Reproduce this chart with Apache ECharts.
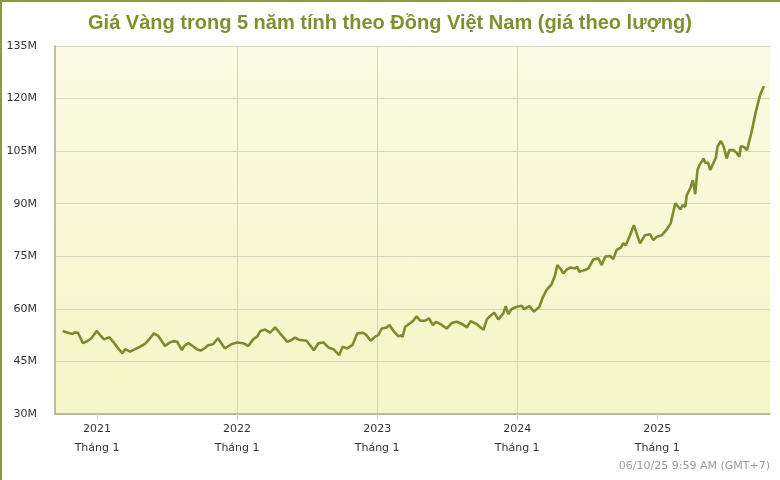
<!DOCTYPE html>
<html>
<head>
<meta charset="utf-8">
<script src="https://cdn.jsdelivr.net/npm/echarts@6/dist/echarts.min.js"></script>
<style>
html,body{margin:0;padding:0;background:#fff;}
#chart{width:780px;height:480px;}
</style>
</head>
<body>
<div id="chart"></div>
<script>
const titleText = "Giá Vàng trong 5 năm tính theo Đồng Việt Nam (giá theo lượng)";
const stampText = "06/10/25 9:59 AM (GMT+7)";
const yTicks = [30, 45, 60, 75, 90, 105, 120, 135];
const xTickYears = [2021, 2022, 2023, 2024, 2025];
const xTickSub = "Tháng 1";

const dates = [
"2020-10-03","2020-10-17","2020-10-29","2020-11-04","2020-11-12","2020-11-25","2020-12-08","2020-12-17","2020-12-31",
"2021-01-09","2021-01-19","2021-02-02","2021-02-12","2021-02-25","2021-03-08","2021-03-15","2021-03-28","2021-04-10","2021-04-23","2021-05-06","2021-05-19","2021-05-29","2021-06-10","2021-06-18","2021-06-27","2021-07-08","2021-07-19","2021-07-29","2021-08-10","2021-08-16","2021-08-27","2021-09-07","2021-09-18","2021-09-28","2021-10-09","2021-10-17","2021-10-30","2021-11-12","2021-11-30","2021-12-17",
"2022-01-01","2022-01-17","2022-01-30","2022-02-12","2022-02-23","2022-03-03","2022-03-15","2022-03-28","2022-04-10","2022-04-23","2022-05-12","2022-05-23","2022-06-01","2022-06-14","2022-07-01","2022-07-20","2022-08-01","2022-08-14","2022-08-27","2022-09-09","2022-09-24","2022-10-03","2022-10-15","2022-10-29","2022-11-10","2022-11-25","2022-12-04","2022-12-15","2022-12-26",
"2023-01-04","2023-01-13","2023-01-26","2023-02-02","2023-02-14","2023-02-25","2023-03-06","2023-03-08","2023-03-15","2023-03-28","2023-04-05","2023-04-14","2023-04-23","2023-05-06","2023-05-16","2023-05-26","2023-06-03","2023-06-14","2023-07-01","2023-07-15","2023-07-27","2023-08-10","2023-08-23","2023-09-02","2023-09-18","2023-10-05","2023-10-14","2023-10-22","2023-11-02","2023-11-13","2023-11-26","2023-12-02","2023-12-09","2023-12-17","2023-12-31",
"2024-01-13","2024-01-19","2024-02-02","2024-02-14","2024-02-28","2024-03-08","2024-03-18","2024-03-31","2024-04-09","2024-04-15","2024-04-24","2024-05-01","2024-05-10","2024-05-20","2024-05-31","2024-06-06","2024-06-11","2024-06-26","2024-07-05","2024-07-18","2024-07-31","2024-08-09","2024-08-18","2024-08-31","2024-09-08","2024-09-17","2024-09-28","2024-10-04","2024-10-11","2024-10-22","2024-11-01","2024-11-17","2024-11-30","2024-12-13","2024-12-22","2024-12-31",
"2025-01-13","2025-01-26","2025-02-05","2025-02-12","2025-02-17","2025-02-25","2025-03-03","2025-03-08","2025-03-15","2025-03-19","2025-03-28","2025-04-04","2025-04-10","2025-04-16","2025-04-21","2025-05-02","2025-05-06","2025-05-14","2025-05-19","2025-05-27","2025-06-03","2025-06-07","2025-06-16","2025-06-23","2025-07-01","2025-07-08","2025-07-19","2025-07-27","2025-08-03","2025-08-07","2025-08-15","2025-08-23","2025-09-04","2025-09-15","2025-09-26","2025-10-06"
];

// price in millions VND
const prices = [
53.7,53.2,52.8,53.3,53.2,50.2,50.9,51.6,53.7,
52.5,51.3,51.9,50.6,48.7,47.3,48.5,47.8,48.5,49.2,50.0,51.6,53.0,52.2,50.9,49.4,50.3,50.8,50.6,48.2,49.4,50.2,49.4,48.5,48.1,48.8,49.6,49.9,51.6,48.7,49.9,
50.4,50.2,49.4,51.3,52.2,53.7,54.1,53.2,54.7,53.0,50.6,51.1,51.8,51.1,50.9,48.2,50.2,50.4,49.0,48.5,46.8,49.2,48.7,49.7,53.0,53.2,52.5,50.9,52.0,
52.5,54.4,54.7,55.4,53.5,52.2,52.5,51.9,54.9,55.9,56.6,57.9,56.6,56.6,57.3,55.4,56.3,55.7,54.4,56.0,56.3,55.7,54.7,56.5,55.6,54.0,57.0,57.9,58.9,57.0,58.7,60.8,58.5,59.9,60.6,
60.9,59.9,60.8,59.2,60.6,63.3,65.4,67.0,69.6,72.5,71.3,70.1,71.3,71.8,71.5,72.0,70.6,71.1,71.5,74.1,74.4,72.5,74.9,75.1,74.2,76.8,77.5,78.7,78.2,81.0,83.9,78.7,81.0,81.3,79.6,80.6,
81.0,82.7,84.4,87.7,90.1,89.1,88.4,89.6,89.1,92.4,94.4,96.7,92.7,99.6,101.0,102.9,101.7,101.7,99.6,101.5,103.2,106.2,107.9,106.4,102.9,105.3,105.3,104.5,103.4,106.4,106.2,105.3,110.5,116.2,121.0,123.5
];

const xStart = "2020-09-13";
const xEnd = "2025-10-22";

function toYear(s) {
  const p = s.split('-').map(Number);
  const y = p[0];
  const start = Date.UTC(y, 0, 1), end = Date.UTC(y + 1, 0, 1);
  return y + (Date.UTC(y, p[1] - 1, p[2]) - start) / (end - start);
}

const seriesData = dates.map((d, i) => [toYear(d), prices[i]]);

const olive = '#7b8c2c';
const chart = echarts.init(document.getElementById('chart'), null, { renderer: 'canvas' });
chart.setOption({
  animation: false,
  backgroundColor: '#ffffff',
  title: {
    text: titleText,
    left: 'center',
    top: 8,
    textStyle: { fontFamily: 'Liberation Sans, Arial, sans-serif', fontSize: 20, fontWeight: 'bold', color: '#7f902f' }
  },
  grid: {
    left: 55, right: 10, top: 46, bottom: 66,
    show: true,
    borderWidth: 0,
    backgroundColor: {
      type: 'linear', x: 0, y: 0, x2: 0, y2: 1,
      colorStops: [{ offset: 0, color: '#fbfbe4' }, { offset: 1, color: '#f5f5c6' }]
    }
  },
  xAxis: {
    type: 'value',
    min: toYear(xStart),
    max: toYear(xEnd),
    minInterval: 1,
    maxInterval: 1,
    axisLine: { show: true, lineStyle: { color: '#a9a98c', width: 1.5 } },
    axisTick: { show: true, length: 6, lineStyle: { color: '#c5d3e0' }, customValues: xTickYears },
    axisLabel: {
      customValues: xTickYears,
      formatter: v => Math.round(v) + '\n' + xTickSub,
      color: '#333333',
      fontFamily: 'DejaVu Sans, sans-serif',
      fontSize: 11,
      lineHeight: 19,
      margin: 6
    },
    splitLine: { show: true, showMinLine: false, showMaxLine: false, lineStyle: { color: '#d3d3b4', width: 1 } }
  },
  yAxis: {
    type: 'value',
    min: yTicks[0],
    max: yTicks[yTicks.length - 1],
    interval: 15,
    axisLine: { show: true, lineStyle: { color: '#a9a98c', width: 1.5 } },
    axisTick: { show: false },
    axisLabel: {
      formatter: v => v + 'M',
      color: '#333333',
      fontFamily: 'DejaVu Sans, sans-serif',
      fontSize: 11,
      margin: 18
    },
    splitLine: { show: true, lineStyle: { color: '#d6d6b8', width: 1 } }
  },
  series: [{
    type: 'line',
    data: seriesData,
    showSymbol: false,
    symbol: 'none',
    smooth: false,
    lineStyle: { color: olive, width: 2.6 }
  }],
  graphic: [
    { type: 'rect', left: 0, top: 0, shape: { width: 780, height: 2 }, style: { fill: '#8a9a3c' } },
    { type: 'rect', left: 0, top: 0, shape: { width: 2, height: 480 }, style: { fill: '#8a9a3c' } },
    {
      type: 'text', right: 10, top: 461,
      style: { text: stampText, fill: '#9a9a9a', font: '11px "DejaVu Sans", sans-serif' }
    }
  ]
});
</script>
</body>
</html>
